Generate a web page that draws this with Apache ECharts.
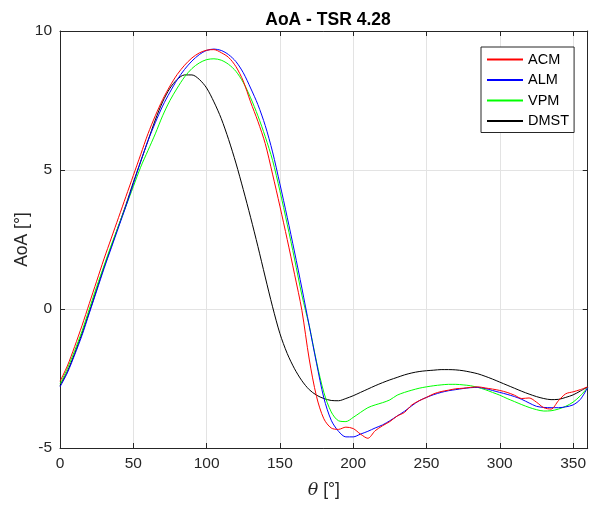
<!DOCTYPE html>
<html>
<head>
<meta charset="utf-8">
<script src="https://cdn.jsdelivr.net/npm/echarts@6/dist/echarts.min.js"></script>
<style>html,body{margin:0;padding:0;background:#fff}#c{width:589px;height:506px}</style>
</head>
<body>
<div id="c"></div>
<script>
const title = 'AoA - TSR 4.28';
const seriesNames = ['ACM', 'ALM', 'VPM', 'DMST'];
const seriesColors = ['#ff0000', '#0000ff', '#00ff00', '#000000'];
// theta = 0,5,...,360
const theta = [];
for (let t = 0; t <= 360; t += 5) theta.push(t);

const acm = [-2.6,-2.05,-1.35,-0.6,0.2,1.0,1.8,2.55,3.3,4.05,4.8,5.55,6.3,6.95,7.53,8.02,8.44,8.77,9.03,9.21,9.31,9.33,9.22,9.05,8.72,8.2,7.45,6.75,5.95,4.85,3.7,2.5,1.25,-0.05,-1.8,-3.15,-3.95,-4.28,-4.33,-4.25,-4.3,-4.5,-4.65,-4.38,-4.2,-4.05,-3.85,-3.72,-3.45,-3.3,-3.18,-3.05,-2.97,-2.92,-2.87,-2.85,-2.82,-2.8,-2.84,-2.88,-2.93,-3.0,-3.1,-3.22,-3.2,-3.35,-3.55,-3.6,-3.3,-3.05,-2.98,-2.9,-2.8];
const alm = [-2.8,-2.3,-1.65,-0.95,-0.15,0.65,1.45,2.2,2.95,3.7,4.5,5.3,6.05,6.7,7.3,7.8,8.25,8.62,8.92,9.15,9.3,9.35,9.3,9.15,8.9,8.5,7.95,7.35,6.6,5.65,4.5,3.3,2.05,0.75,-0.6,-1.95,-3.2,-4.0,-4.4,-4.6,-4.6,-4.5,-4.4,-4.28,-4.17,-4.02,-3.85,-3.68,-3.48,-3.3,-3.18,-3.08,-3.0,-2.94,-2.9,-2.86,-2.83,-2.82,-2.86,-2.93,-3.0,-3.07,-3.15,-3.25,-3.38,-3.5,-3.54,-3.55,-3.55,-3.52,-3.45,-3.25,-2.82];
const vpm = [-2.7,-2.15,-1.5,-0.8,0.0,0.8,1.55,2.3,3.0,3.7,4.4,5.1,5.7,6.3,6.95,7.5,7.95,8.35,8.65,8.85,8.97,9.0,8.95,8.8,8.55,8.15,7.6,6.95,6.2,5.35,4.25,3.05,1.8,0.5,-0.6,-1.9,-3.0,-3.7,-4.02,-4.05,-3.9,-3.72,-3.55,-3.45,-3.37,-3.27,-3.1,-3.0,-2.92,-2.85,-2.8,-2.76,-2.73,-2.71,-2.71,-2.73,-2.76,-2.82,-2.9,-3.0,-3.1,-3.22,-3.33,-3.44,-3.54,-3.62,-3.67,-3.66,-3.6,-3.5,-3.35,-3.12,-2.82];
const dmst = [-2.75,-2.25,-1.6,-0.88,-0.1,0.7,1.5,2.25,3.0,3.75,4.55,5.3,6.05,6.8,7.45,7.94,8.26,8.42,8.42,8.26,7.95,7.45,6.85,6.1,5.25,4.3,3.3,2.25,1.15,0.08,-0.88,-1.6,-2.15,-2.58,-2.9,-3.1,-3.22,-3.29,-3.3,-3.22,-3.12,-3.0,-2.88,-2.76,-2.65,-2.55,-2.46,-2.37,-2.3,-2.25,-2.22,-2.2,-2.18,-2.18,-2.19,-2.22,-2.27,-2.33,-2.42,-2.52,-2.63,-2.74,-2.85,-2.96,-3.06,-3.15,-3.22,-3.26,-3.25,-3.18,-3.09,-2.95,-2.8];
const values = [acm, alm, vpm, dmst];

const txt = '#262626';
const font = 'Liberation Sans, Arial, sans-serif';
const chart = echarts.init(document.getElementById('c'), null, {renderer: 'canvas'});

const axisCommon = {
  axisLine: {show: true, onZero: false, lineStyle: {color: txt, width: 1}},
  axisTick: {show: true, inside: true, length: 5, lineStyle: {color: txt}},
  splitLine: {show: false}
};

chart.setOption({
  animation: false,
  backgroundColor: '#fff',
  title: {
    text: title, left: 323, top: 6, textAlign: 'center',
    textStyle: {fontFamily: font, fontSize: 17.5, fontWeight: 'bold', color: '#000'}
  },
  grid: {left: 60, right: 1, top: 31, bottom: 58, containLabel: false},
  legend: {
    data: seriesNames, orient: 'vertical', left: 481, top: 47,
    itemWidth: 36, itemHeight: 14, itemGap: 5.5,
    padding: [5, 5, 4, 5],
    itemStyle: {opacity: 0},
    backgroundColor: '#fff', borderColor: txt, borderWidth: 1, borderRadius: 0,
    textStyle: {fontFamily: font, fontSize: 14.5, lineHeight: 14, color: '#000'}
  },
  xAxis: [{
    type: 'value', min: 0, max: 360, interval: 50, position: 'bottom',
    ...axisCommon,
    splitLine: {show: true, lineStyle: {color: '#e3e3e3', width: 1}},
    axisLabel: {fontFamily: font, fontSize: 15.5, color: txt, margin: 8, showMaxLabel: false},
    name: '{i|θ} [°]', nameLocation: 'middle', nameGap: 33, nameMoveOverlap: false,
    nameTextStyle: {fontFamily: font, fontSize: 17.5, color: txt,
      rich: {i: {fontFamily: 'DejaVu Serif', fontStyle: 'italic', fontSize: 17.5, color: txt}}}
  }, {
    type: 'value', min: 0, max: 360, interval: 50, position: 'top',
    ...axisCommon, axisLabel: {show: false}
  }],
  yAxis: [{
    type: 'value', min: -5, max: 10, interval: 5, position: 'left',
    ...axisCommon,
    splitLine: {show: true, lineStyle: {color: '#e3e3e3', width: 1}},
    axisLabel: {fontFamily: font, fontSize: 15.5, color: txt, margin: 8},
    name: 'AoA [°]', nameLocation: 'middle', nameGap: 29, nameRotate: 90, nameMoveOverlap: false,
    nameTextStyle: {fontFamily: font, fontSize: 17.5, color: txt}
  }, {
    type: 'value', min: -5, max: 10, interval: 5, position: 'right',
    ...axisCommon, axisLabel: {show: false}
  }],
  series: seriesNames.map((n, i) => ({
    name: n, type: 'line', xAxisIndex: 0, yAxisIndex: 0,
    data: theta.map((t, k) => [t, values[i][k]]),
    symbol: 'none', smooth: 0.3,
    lineStyle: {color: seriesColors[i], width: 1},
    itemStyle: {color: seriesColors[i]},
    z: 10 - i
  }))
});
</script>
</body>
</html>
